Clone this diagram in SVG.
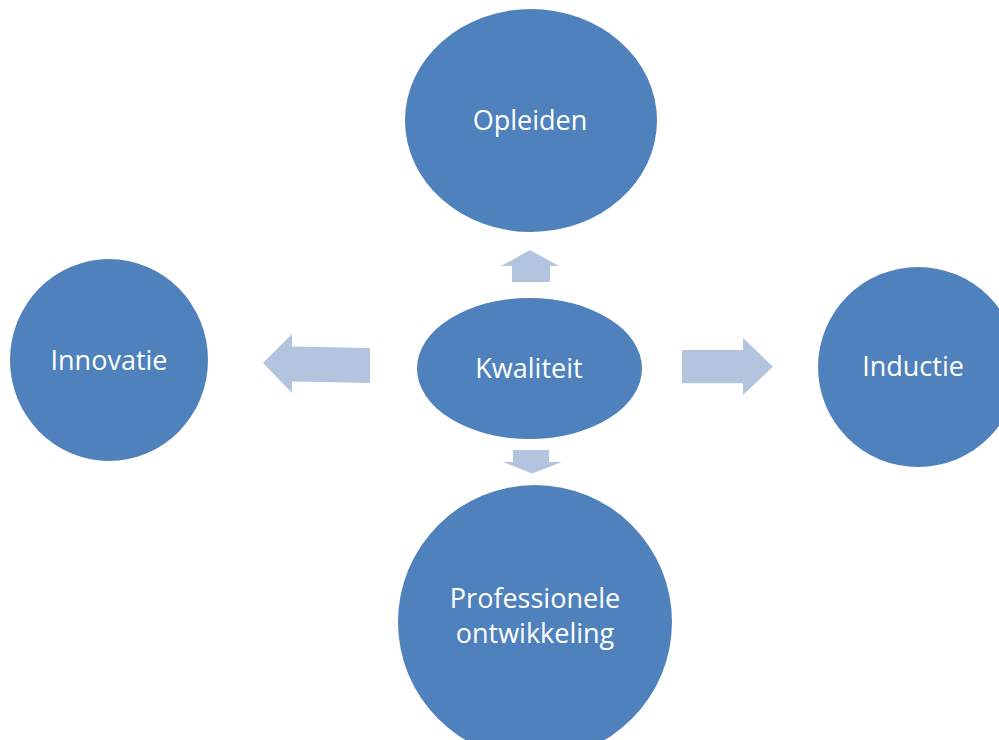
<svg xmlns="http://www.w3.org/2000/svg" width="999" height="740" viewBox="0 0 999 740">
<style>
.node{fill:#4F81BD}
.lbl{fill:#ffffff;font-family:"Open Sans","DejaVu Sans",sans-serif;font-size:27px;text-anchor:middle}
.arr{fill:#B3C4DE}
</style>
<rect width="999" height="740" fill="#ffffff"/>
<g id="connectors">
<polygon class="arr" points="530,250 559,266 550,266 550,282 512,282 512,266 501,266"/>
<polygon class="arr" points="263,363 292,334 292,346.5 370,348 370,383 292,381.5 292,393"/>
<polygon class="arr" points="682,350 743,350 743,338 773,366.7 743,395 743,383.3 682,383.3"/>
<polygon class="arr" points="513,450 549,450 549,462 562,462 532,473.5 503,462 513,462"/>
</g>
<g id="node-opleiden">
<ellipse class="node" cx="531" cy="120.5" rx="126" ry="111.5"/>
<text class="lbl" x="530" y="130">Opleiden</text>
</g>
<g id="node-innovatie">
<ellipse class="node" cx="109" cy="360" rx="99" ry="101"/>
<text class="lbl" x="109" y="370">Innovatie</text>
</g>
<g id="node-inductie">
<ellipse class="node" cx="918" cy="367" rx="100" ry="100"/>
<text class="lbl" x="913" y="376">Inductie</text>
</g>
<g id="node-kwaliteit">
<ellipse class="node" cx="529.5" cy="368.5" rx="112.5" ry="70.5"/>
<text class="lbl" x="529" y="378">Kwaliteit</text>
</g>
<g id="node-professionele">
<ellipse class="node" cx="535" cy="622" rx="137" ry="137"/>
<text class="lbl" x="535" y="608">Professionele</text>
<text class="lbl" x="535" y="643">ontwikkeling</text>
</g>
</svg>
